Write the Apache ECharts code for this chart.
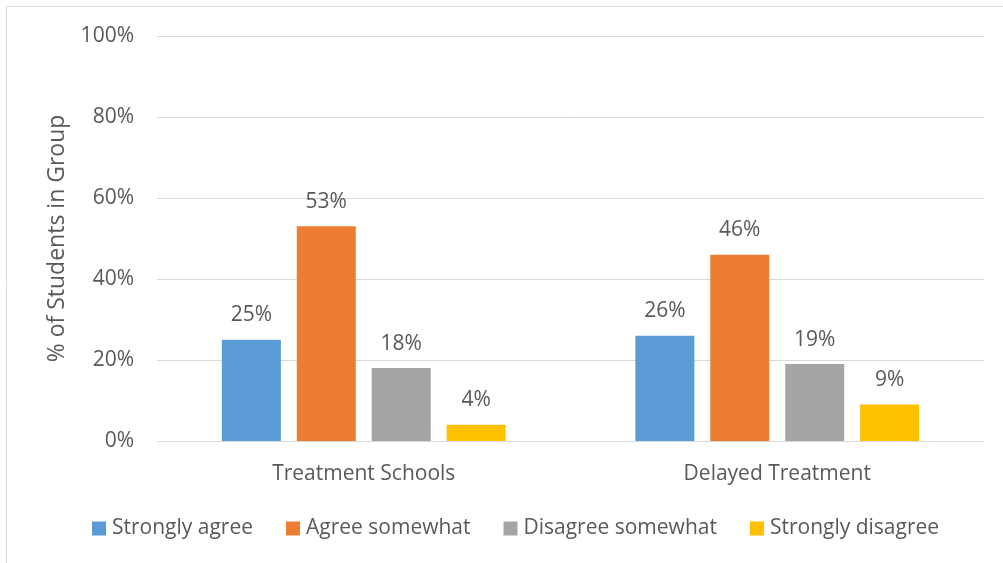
<!DOCTYPE html>
<html><head><meta charset="utf-8">
<script src="https://cdn.jsdelivr.net/npm/echarts@6/dist/echarts.min.js"></script>
<style>html,body{margin:0;padding:0;background:#fff}#c{width:1003px;height:563px}</style>
</head><body><div id="c"></div>
<script>
const categories = ['Treatment Schools', 'Delayed Treatment'];
const seriesNames = ['Strongly agree', 'Agree somewhat', 'Disagree somewhat', 'Strongly disagree'];
const stronglyAgree = [25, 26];
const agreeSomewhat = [53, 46];
const disagreeSomewhat = [18, 19];
const stronglyDisagree = [4, 9];
const yTicks = [0, 20, 40, 60, 80, 100];
const colors = ['#5B9BD5', '#ED7D31', '#A5A5A5', '#FFC000'];
const values = [stronglyAgree, agreeSomewhat, disagreeSomewhat, stronglyDisagree];
const font = 'Open Sans';
const txt = '#595959';
const chart = echarts.init(document.getElementById('c'));
chart.setOption({
  animation: false,
  textStyle: {fontFamily: font},
  graphic: [{type: 'rect', shape: {x: 6.5, y: 6.5, width: 1100, height: 700}, style: {fill: 'none', stroke: '#d9d9d9', lineWidth: 1}, silent: true, z: -1}],
  grid: {left: 157, right: 19, top: 36, bottom: 122},
  legend: {
    top: 513, left: 87, itemWidth: 14, itemHeight: 14, itemGap: 33,
    icon: 'rect',
    textStyle: {color: txt, fontSize: 21, fontFamily: font, padding: [0, 0, 0, 1]},
    data: seriesNames
  },
  xAxis: {
    type: 'category', data: categories,
    axisLine: {lineStyle: {color: '#d9d9d9', width: 1}},
    axisTick: {show: false},
    axisLabel: {color: txt, fontSize: 21, margin: 23, fontFamily: font}
  },
  yAxis: {
    type: 'value', min: 0, max: 100, interval: 20,
    name: '% of Students in Group', nameLocation: 'middle', nameGap: 88,
    nameTextStyle: {color: txt, fontSize: 23, fontFamily: font},
    axisLine: {show: false}, axisTick: {show: false},
    splitLine: {lineStyle: {color: '#d9d9d9', width: 1}},
    axisLabel: {color: txt, fontSize: 21, margin: 23, fontFamily: font, formatter: v => yTicks.includes(v) ? v + '%' : ''}
  },
  series: seriesNames.map((n, i) => ({
    name: n, type: 'bar', data: values[i], barWidth: 59, barGap: '27%',
    itemStyle: {color: colors[i]},
    label: {show: true, position: 'top', distance: 14, color: txt, fontSize: 21, fontFamily: font, formatter: p => p.value + '%'}
  }))
});
</script></body></html>
